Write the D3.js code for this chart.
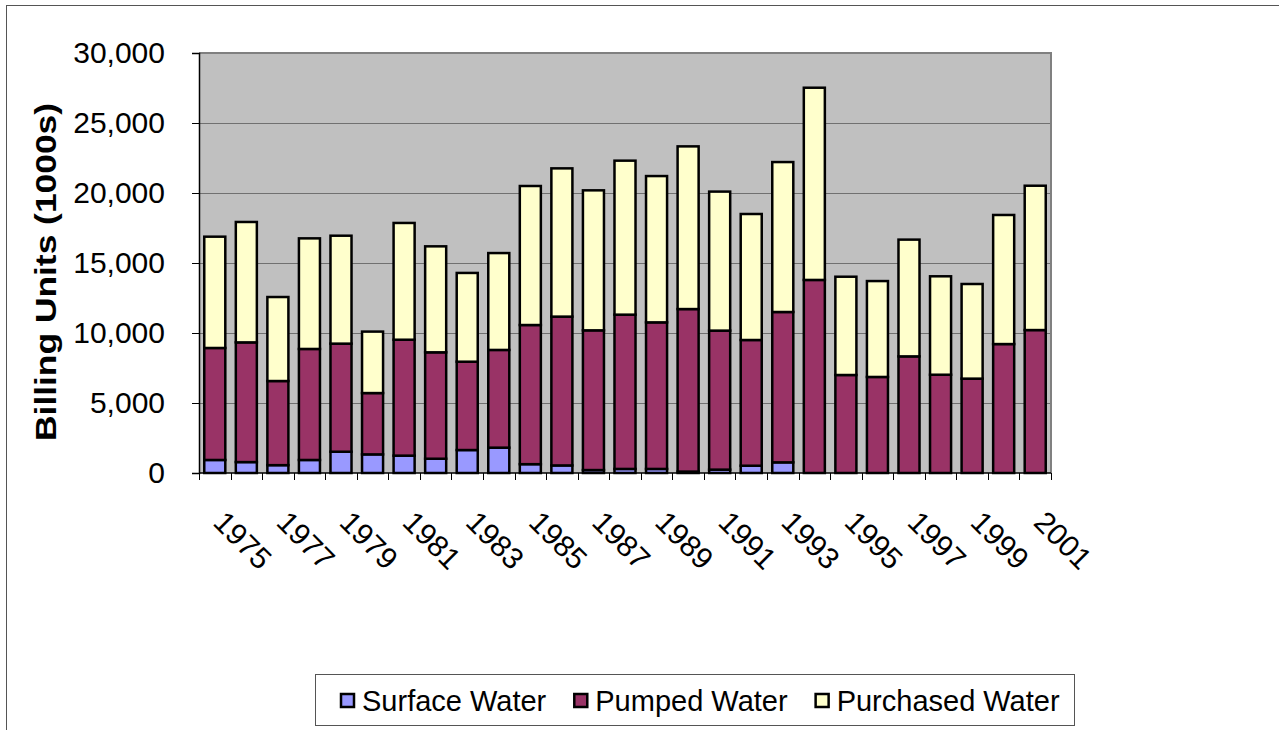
<!DOCTYPE html>
<html>
<head>
<meta charset="utf-8">
<script src="https://cdn.jsdelivr.net/npm/d3@7"></script>
<style>
  body { margin: 0; background: #fff; }
  svg { display: block; font-family: "Liberation Sans", Arial, sans-serif; }
</style>
</head>
<body>
<svg id="chart" width="1279" height="730"></svg>
<script>

// data (thousands of billing units)
var years = [1975, 1976, 1977, 1978, 1979, 1980, 1981, 1982, 1983, 1984, 1985, 1986, 1987, 1988,
             1989, 1990, 1991, 1992, 1993, 1994, 1995, 1996, 1997, 1998, 1999, 2000, 2001];
var surface = [930, 780, 560, 930, 1520, 1330, 1240, 1020, 1640, 1810, 630, 540, 210, 290,
               290, 100, 240, 520, 760, 0, 0, 0, 0, 0, 0, 0, 0];
var pumped = [8000, 8550, 6010, 7930, 7720, 4380, 8280, 7600, 6310, 6980, 9940, 10630, 9980, 11020,
              10470, 11610, 9930, 8980, 10740, 13790, 7000, 6860, 8330, 7020, 6740, 9210, 10210];
var purchased = [7950, 8600, 6000, 7900, 7710, 4390, 8340, 7570, 6340, 6920, 9930, 10590, 10000, 11000,
                 10450, 11620, 9930, 9000, 10710, 13730, 7020, 6850, 8340, 7030, 6760, 9220, 10310];
var yTicks = [0, 5000, 10000, 15000, 20000, 25000, 30000];

var seriesNames = ["Surface Water", "Pumped Water", "Purchased Water"];
var seriesColors = ["#9999FF", "#993366", "#FFFFCC"];

var svg = d3.select("#chart");
var plotLeft = 199, plotRight = 1051, plotTop = 53, plotBottom = 473;

// outer chart border
svg.append("rect")
    .attr("x", 6.5).attr("y", 5.5)
    .attr("width", 1400).attr("height", 900)
    .attr("fill", "none")
    .attr("stroke", "#555")
    .attr("stroke-width", 1);

var x = d3.scaleBand()
    .domain(years)
    .range([plotLeft, plotRight])
    .paddingInner(1 / 3)
    .paddingOuter(1 / 6);

var y = d3.scaleLinear()
    .domain([0, 30000])
    .range([plotBottom, plotTop]);

// plot area
svg.append("rect")
    .attr("x", plotLeft).attr("y", plotTop)
    .attr("width", plotRight - plotLeft).attr("height", plotBottom - plotTop)
    .attr("fill", "#C0C0C0");

svg.append("g").selectAll("line")
    .data(yTicks.slice(1, -1))
    .enter().append("line")
    .attr("x1", plotLeft).attr("x2", plotRight)
    .attr("y1", function(d) { return y(d) + 0.5; })
    .attr("y2", function(d) { return y(d) + 0.5; })
    .attr("stroke", "#707070")
    .attr("stroke-width", 1);

// top and right border of plot
svg.append("path")
    .attr("d", "M" + plotLeft + "," + plotTop + "H" + plotRight + "V" + plotBottom)
    .attr("fill", "none")
    .attr("stroke", "#808080")
    .attr("stroke-width", 2);

// stacked bars
var rows = years.map(function(yr, i) {
    return { year: yr, s: surface[i], p: pumped[i], u: purchased[i] };
});
var stack = d3.stack().keys(["s", "p", "u"]);
var layers = stack(rows);

svg.append("g").selectAll("g")
    .data(layers)
    .enter().append("g")
    .attr("fill", function(d, i) { return seriesColors[i]; })
    .selectAll("rect")
    .data(function(d) { return d.filter(function(v) { return v[1] > v[0]; }); })
    .enter().append("rect")
    .attr("x", function(d) { return x(d.data.year); })
    .attr("width", x.bandwidth())
    .attr("y", function(d) { return y(d[1]); })
    .attr("height", function(d) { return y(d[0]) - y(d[1]); })
    .attr("stroke", "#000")
    .attr("stroke-width", 2.5);

// y axis
var yAxis = svg.append("g")
    .attr("transform", "translate(" + plotLeft + ",0)")
    .call(d3.axisLeft(y).tickValues(yTicks).tickFormat(d3.format(",")).tickSize(7).tickPadding(27));
yAxis.select(".domain").attr("stroke", "#000").attr("stroke-width", 1.5);
yAxis.selectAll(".tick line").attr("stroke", "#000");
yAxis.selectAll("text")
    .attr("font-size", 30)
    .attr("fill", "#000")
    .attr("font-family", "Liberation Sans, Arial, sans-serif");

// x axis line and category ticks
var step = x.step();
var tickXs = d3.range(years.length + 1).map(function(i) { return plotLeft + i * step; });
svg.append("line")
    .attr("x1", plotLeft).attr("x2", plotRight)
    .attr("y1", plotBottom).attr("y2", plotBottom)
    .attr("stroke", "#000").attr("stroke-width", 1.5);
svg.append("g").selectAll("line")
    .data(tickXs)
    .enter().append("line")
    .attr("x1", function(d) { return Math.round(d) + 0.5; })
    .attr("x2", function(d) { return Math.round(d) + 0.5; })
    .attr("y1", plotBottom).attr("y2", plotBottom + 7)
    .attr("stroke", "#000");

// rotated year labels, every other year
svg.append("g").selectAll("text")
    .data(years.filter(function(d, i) { return i % 2 === 0; }))
    .enter().append("text")
    .attr("transform", function(d) {
        var cx = x(d) + x.bandwidth() / 2;
        return "translate(" + (cx - 3) + "," + (plotBottom + 51) + ") rotate(45)";
    })
    .attr("font-size", 30)
    .attr("text-anchor", "start")
    .text(function(d) { return d; });

// y title
svg.append("text")
    .attr("transform", "translate(56,272) rotate(-90)")
    .attr("text-anchor", "middle")
    .attr("font-size", 29)
    .attr("font-weight", "bold")
    .attr("textLength", 338)
    .attr("lengthAdjust", "spacingAndGlyphs")
    .text("Billing Units (1000s)");

// legend
var legend = svg.append("g");
legend.append("rect")
    .attr("x", 315.5).attr("y", 674.5)
    .attr("width", 759).attr("height", 51)
    .attr("fill", "#fff")
    .attr("stroke", "#555")
    .attr("stroke-width", 1);

var lx = 341;
seriesNames.forEach(function(name, i) {
    legend.append("rect")
        .attr("x", lx).attr("y", 694)
        .attr("width", 13).attr("height", 13)
        .attr("fill", seriesColors[i])
        .attr("stroke", "#000")
        .attr("stroke-width", 2.5);
    var t = legend.append("text")
        .attr("x", lx + 21).attr("y", 711)
        .attr("font-size", 29)
        .text(name);
    lx += 21 + t.node().getComputedTextLength() + 28;
});
</script>
</body>
</html>
